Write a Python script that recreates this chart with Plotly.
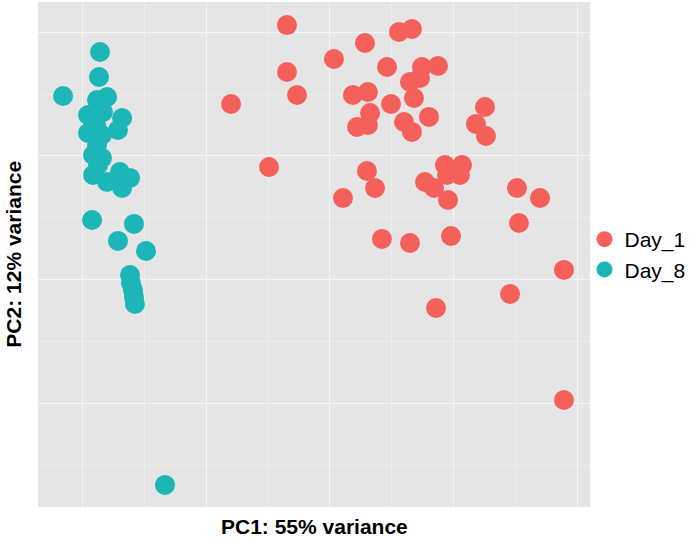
import plotly.graph_objects as go

# PCA coordinates (arbitrary PC units)
day1_pc1 = [-3.47, -7.98, -3.47, -2.66, -4.92, 0.32, 2.82, 4.60, 5.56, 6.61,
            1.85, 3.06, 3.23, 2.18, 3.06, 4.92, 5.97, 6.61, 2.98, 3.63,
            1.05, 4.19, 6.45, 7.42, 8.71, 6.45, 7.26, 6.77, 7.98, 12.50,
            11.77, 12.58, 9.27, 10.65, 9.44, 10.48, 7.66, 8.39, 9.52, 15.08,
            16.94, 15.24, 9.76, 18.87, 14.52, 8.55, 18.87]
day1_pc2 = [20.56, 14.19, 16.77, 14.92, 9.11, 17.82, 19.11, 17.18, 20.00, 20.24,
            14.92, 15.16, 13.47, 12.34, 12.50, 14.19, 12.74, 11.94, 8.79, 7.42,
            6.61, 3.31, 2.98, 17.18, 17.26, 15.97, 16.29, 14.68, 13.15, 13.95,
            12.58, 11.61, 9.27, 9.27, 8.47, 8.47, 7.90, 7.42, 6.45, 7.42,
            6.61, 4.60, 3.55, 0.81, -1.13, -2.26, -9.68]

day8_pc1 = [-18.55, -18.63, -21.53, -18.79, -17.98, -19.52, -18.31, -16.77, -17.10, -19.52,
            -18.39, -18.79, -19.11, -18.39, -19.11, -17.98, -16.94, -16.13, -16.77, -19.19,
            -15.81, -17.10, -14.84, -16.13, -16.05, -15.89, -15.81, -15.73, -13.31, -18.87,
            -18.71]
day8_pc2 = [18.39, 16.37, 14.84, 14.52, 14.76, 13.31, 13.55, 13.06, 12.10, 11.85,
            11.69, 10.89, 10.08, 9.84, 8.47, 7.90, 8.71, 8.23, 7.42, 4.84,
            4.52, 3.15, 2.34, 0.40, -0.24, -0.81, -1.37, -1.94, -16.53, 12.58,
            9.27]

group_names = ["Day_1", "Day_8"]
group_colors = ["#F5605B", "#1CB6B8"]

fig = go.Figure()
for name, xs, ys, col in zip(group_names, [day1_pc1, day8_pc1], [day1_pc2, day8_pc2], group_colors):
    fig.add_trace(go.Scatter(x=xs, y=ys, mode="markers", name=name,
                             marker=dict(size=20, color=col, line=dict(width=0))))

axis_common = dict(showticklabels=False, ticks="", zeroline=False, showline=False,
                   showgrid=True, gridcolor="#F4F4F4", gridwidth=1.2, dtick=10, tick0=0,
                   minor=dict(dtick=5, tick0=0, showgrid=True, gridcolor="#EDEDED", gridwidth=0.6))

fig.update_layout(
    width=698, height=546,
    margin=dict(l=38, r=108, t=2, b=39),
    paper_bgcolor="white", plot_bgcolor="#E5E5E5",
    xaxis=dict(range=[-23.55, 20.97], **axis_common),
    yaxis=dict(range=[-18.31, 22.42], **axis_common),
    showlegend=True,
    legend=dict(x=0.99, xanchor="left", y=0.5, yanchor="middle",
                font=dict(family="Liberation Sans, Arial", size=21, color="black"),
                itemsizing="trace", itemwidth=30, tracegroupgap=0,
                bgcolor="rgba(0,0,0,0)"),
    font=dict(family="Liberation Sans, Arial"),
)

fig.add_annotation(text="<b>PC1: 55% variance</b>", xref="paper", yref="paper",
                   x=0.5, y=-0.012, xanchor="center", yanchor="top", showarrow=False,
                   font=dict(family="Liberation Sans, Arial", size=21, color="black"))
fig.add_annotation(text="<b>PC2: 12% variance</b>", xref="paper", yref="paper",
                   x=-0.045, y=0.5, xanchor="center", yanchor="middle", textangle=-90,
                   showarrow=False,
                   font=dict(family="Liberation Sans, Arial", size=21, color="black"))

fig.write_html("out.html", config={"displayModeBar": False},
               post_script="document.body.style.margin='0';")
